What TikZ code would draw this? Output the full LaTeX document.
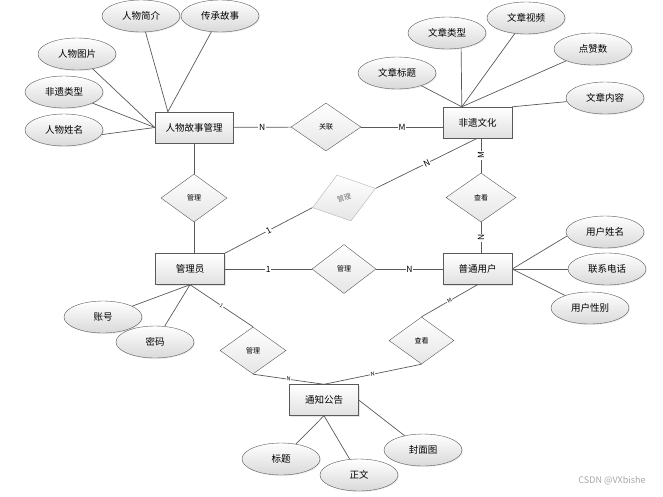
\documentclass[tikz,border=0pt]{standalone}
\usepackage{fontspec}
\setmainfont{Noto Sans CJK SC}
\usetikzlibrary{shapes.geometric,shadows}

\begin{document}
\begin{tikzpicture}[x=1pt,y=-1pt,
    entity/.style={draw=black!65,top color=white,bottom color=black!12,
        minimum width=69pt,minimum height=31pt,inner sep=0pt,
        font=\fontsize{9.5}{11}\selectfont,
        drop shadow={opacity=0.2,shadow xshift=1.2pt,shadow yshift=-1.2pt}},
    attr/.style={ellipse,draw=black!65,top color=white,bottom color=black!15,
        minimum width=78pt,minimum height=32pt,inner sep=0pt,
        font=\fontsize{9.5}{11}\selectfont,
        drop shadow={opacity=0.15,shadow xshift=1pt,shadow yshift=-1pt}},
    rel/.style={diamond,draw=black!65,top color=white,bottom color=black!10,
        minimum width=66pt,minimum height=48pt,inner sep=0pt,
        font=\fontsize{7}{8}\selectfont},
    link/.style={draw=black!65,line width=0.7pt},
    card/.style={fill=white,inner sep=0.8pt,font=\fontsize{8.5}{9}\selectfont},
    cardsmall/.style={card,inner sep=0.5pt,font=\fontsize{5.5}{6}\selectfont}
    ]
    \useasboundingbox (0,0) rectangle (663,496);

    % Entities
    \node[entity,minimum width=78pt] (rw) at (194,127.5) {人物故事管理};
    \node[entity] (fy) at (477.5,122.5) {非遗文化};
    \node[entity] (gly) at (190,269) {管理员};
    \node[entity] (pt) at (477.5,269) {普通用户};
    \node[entity] (tz) at (324,400) {通知公告};

    % Relations
    \node[rel,minimum width=70pt] (guanlian) at (326,127) {关联};
    \node[rel] (guanli1) at (194,198) {管理};
    \node[rel,rotate=17,draw=black!30,text=black!55] (guanli2) at (344,198) {管理};
    \node[rel,minimum width=70pt,minimum height=49pt] (chakan1) at (481,197.5) {查看};
    \node[rel,minimum width=64pt,minimum height=49pt] (guanli3) at (344,269) {管理};
    \node[rel,minimum height=47pt] (guanli4) at (253,350.5) {管理};
    \node[rel,minimum width=65pt,minimum height=47pt] (chakan2) at (421.5,340.5) {查看};

    % Attributes of 人物故事管理
    \node[attr] (rwjj) at (141,16) {人物简介};
    \node[attr] (ccgs) at (220,16) {传承故事};
    \node[attr] (rwtp) at (77,54) {人物图片};
    \node[attr] (fylx) at (64,92) {非遗类型};
    \node[attr] (rwxm) at (64,130) {人物姓名};

    % Attributes of 非遗文化
    \node[attr] (wzlx) at (447,33) {文章类型};
    \node[attr] (wzsp) at (526,18) {文章视频};
    \node[attr] (dzs) at (593,49) {点赞数};
    \node[attr] (wzbt) at (397,73) {文章标题};
    \node[attr] (wznr) at (605,98) {文章内容};

    % Attributes of 普通用户
    \node[attr] (yhxm) at (605,232) {用户姓名};
    \node[attr] (lxdh) at (607,269) {联系电话};
    \node[attr] (yhxb) at (590,308) {用户性别};

    % Attributes of 管理员
    \node[attr] (zh) at (103,317) {账号};
    \node[attr] (mm) at (155,342) {密码};

    % Attributes of 通知公告
    \node[attr] (bt) at (281,459) {标题};
    \node[attr] (zw) at (359,475) {正文};
    \node[attr] (fmt) at (423,450) {封面图};

    % Attribute lines
    \draw[link] (rwjj) -- (rw.149);
    \draw[link] (ccgs) -- (rw.149);
    \draw[link] (rwtp) -- (rw.west);
    \draw[link] (fylx) -- (rw.west);
    \draw[link] (rwxm.-7) -- (rw.west);
    \draw[link] (wzbt) -- (fy.135);
    \draw[link] (wzlx.-47) -- (fy.135);
    \draw[link] (wzsp) -- (fy.135);
    \draw[link] (dzs) -- (fy.135);
    \draw[link] (wznr) -- (fy.north east);
    \draw[link] (yhxm.186) -- (pt.east);
    \draw[link] (lxdh) -- (pt.east);
    \draw[link] (yhxb) -- (pt.east);
    \draw[link] (zh) -- (gly.south);
    \draw[link] (mm) -- (gly.south);
    \draw[link] (bt) -- (tz.south);
    \draw[link] (zw) -- (tz.south);
    \draw[link] (fmt) -- (tz.east);

    % Relation lines
    \draw[link] (rw) -- node[card] {N} (guanlian);
    \draw[link] (guanlian.east) -- node[card] {M} (guanlian.east -| fy.west);
    \draw[link] (rw.south) -- (guanli1.north);
    \draw[link] (guanli1.south) -- (guanli1.south |- gly.north);
    \draw[link] (chakan1.north |- fy.south) -- node[card,rotate=90] {M} (chakan1.north);
    \draw[link] (chakan1.south) -- node[card,rotate=90] {N} (chakan1.south |- pt.north);
    \draw[link] (fy.south) -- node[card,sloped] {N} (guanli2.east);
    \draw[link] (guanli2.west) -- node[card,sloped] {1} (gly.north east);
    \draw[link] (gly) -- node[card] {1} (guanli3);
    \draw[link] (guanli3) -- node[card] {N} (pt);
    \draw[link] (gly.south) -- node[cardsmall,sloped] {1} (guanli4.north);
    \draw[link] (guanli4.south) -- node[cardsmall,sloped] {N} (tz.north);
    \draw[link] (pt.south) -- node[cardsmall,sloped] {M} (chakan2.north);
    \draw[link] (chakan2.south) -- node[cardsmall,sloped] {N} (tz.north);

    % Watermark
    \node[text=black!35,font=\fontsize{9}{10}\selectfont] (mark) at (612,481) {CSDN @VXbishe};
\end{tikzpicture}
\end{document}
